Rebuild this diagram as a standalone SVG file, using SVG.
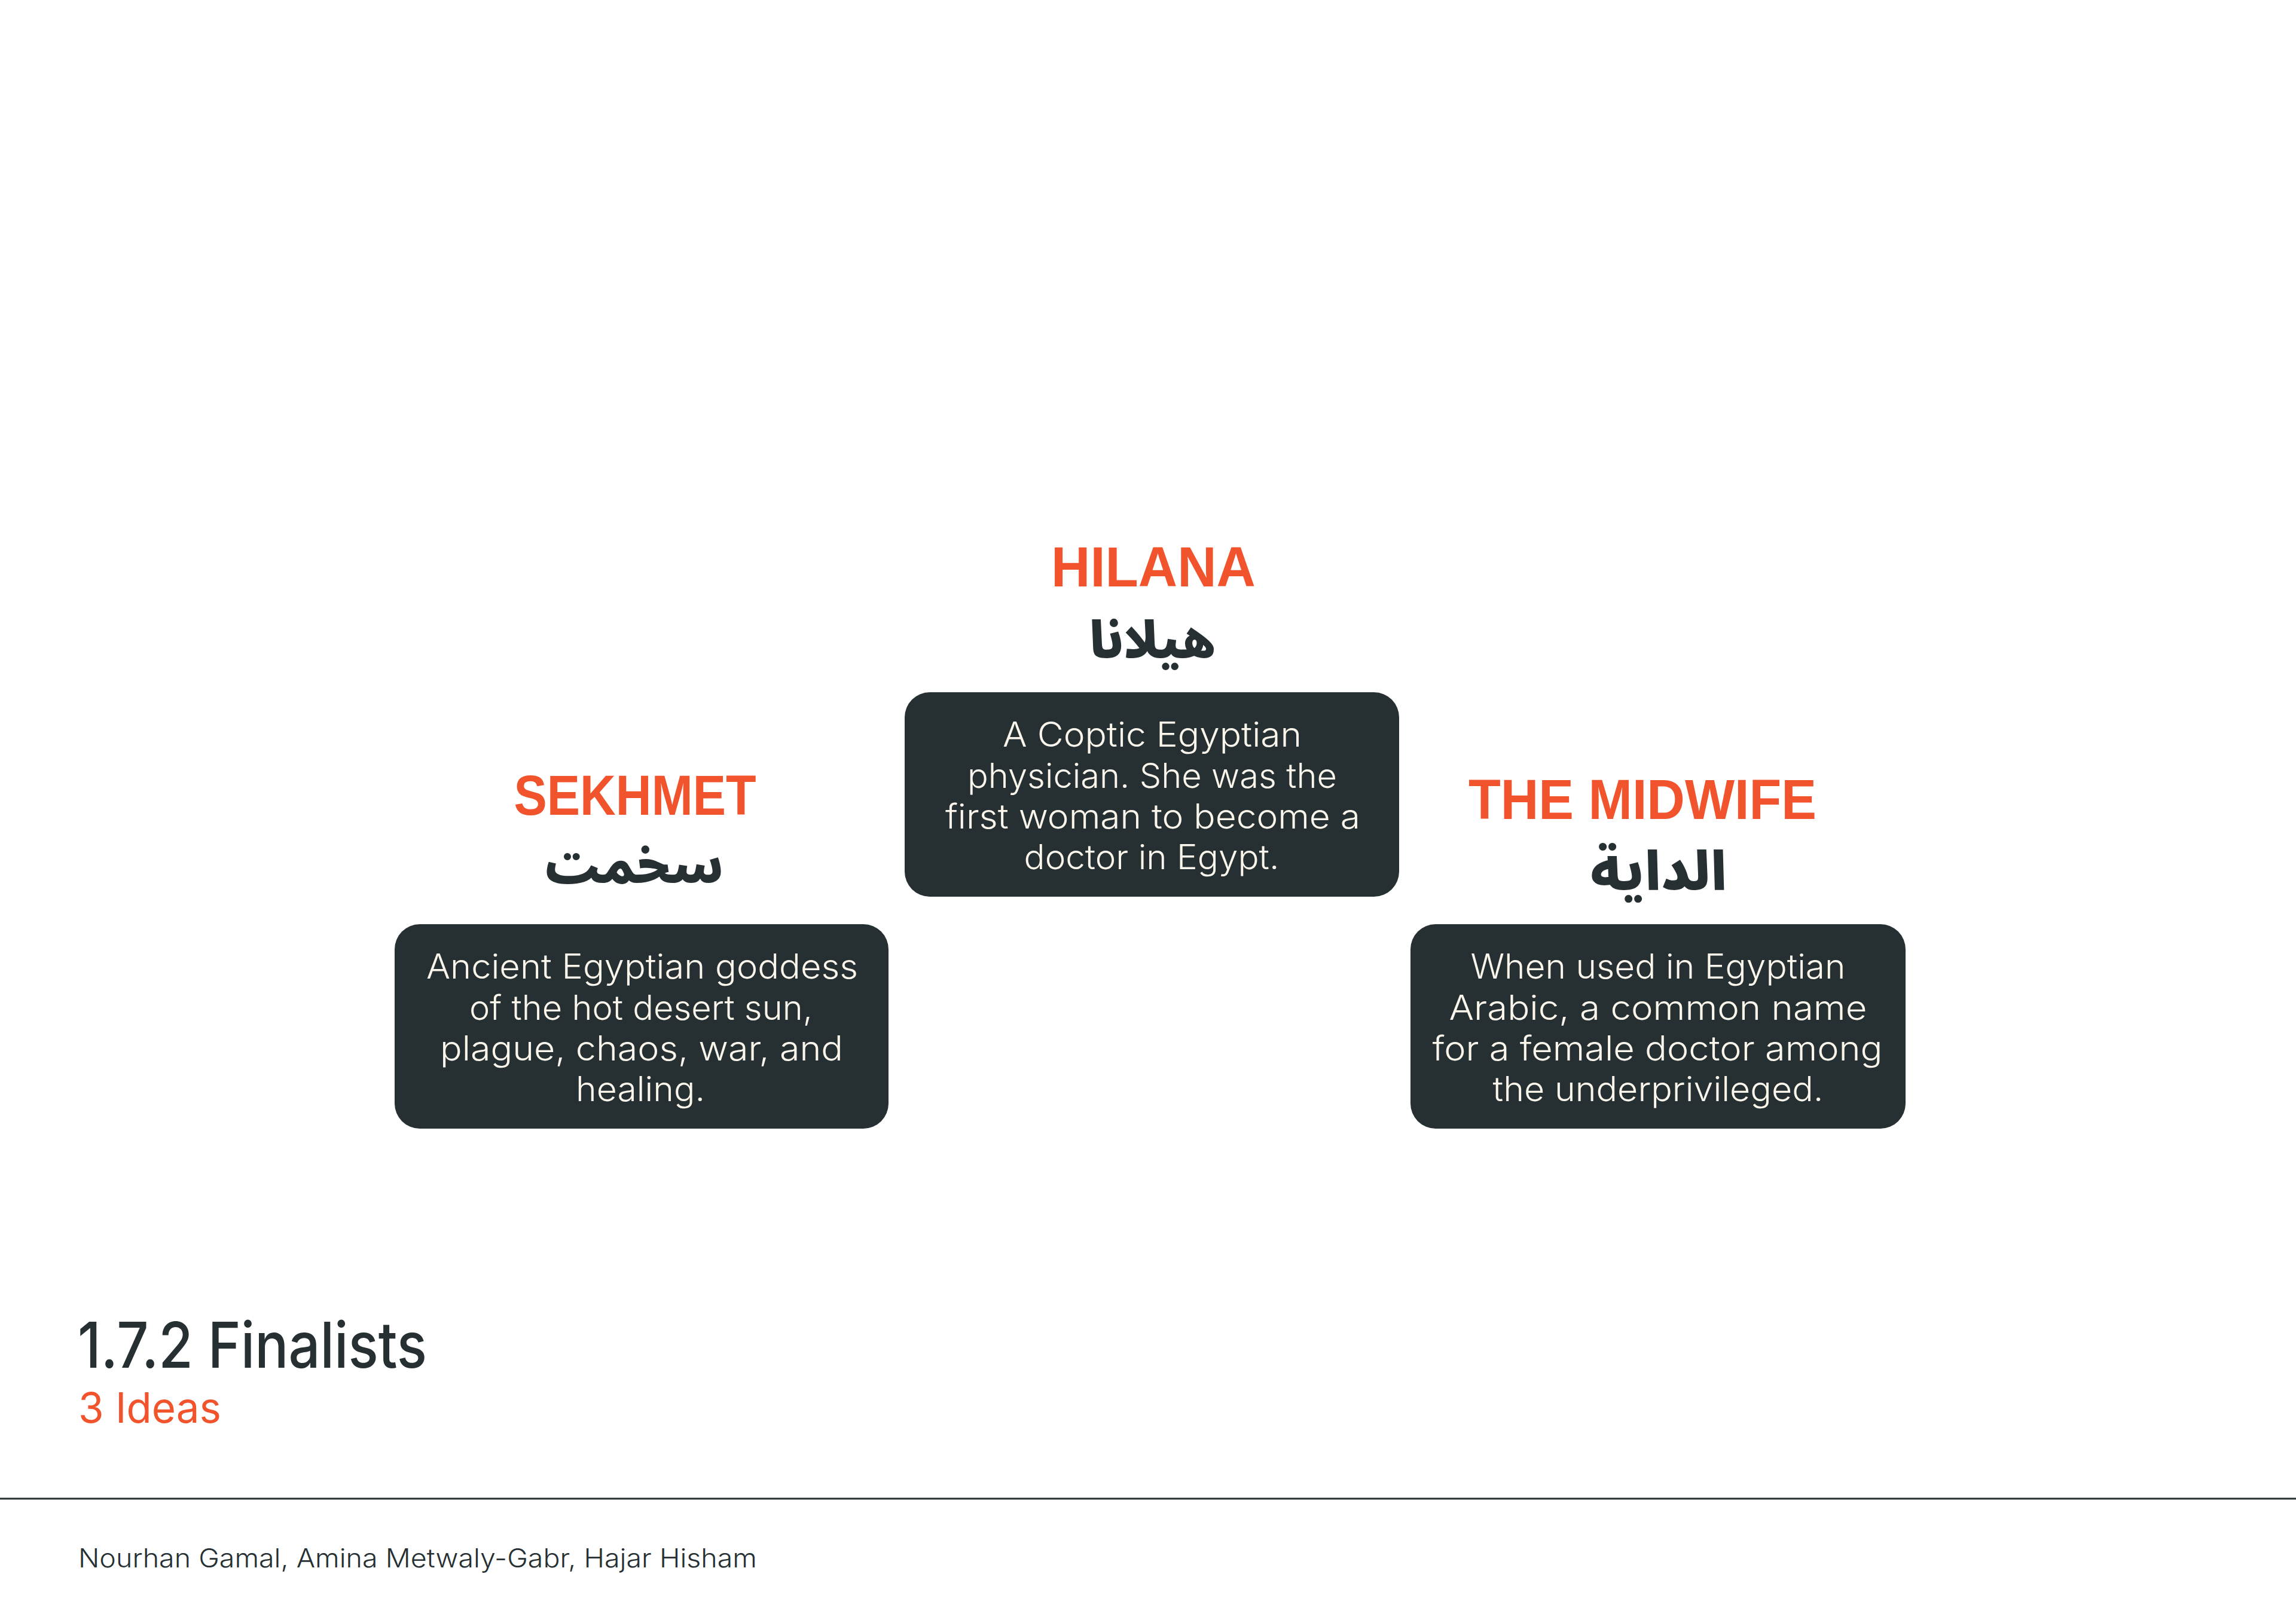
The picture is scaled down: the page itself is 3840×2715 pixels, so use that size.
<svg xmlns="http://www.w3.org/2000/svg" width="3840" height="2715" viewBox="0 0 3840 2715">
<style>
.bg{fill:#ffffff}
.title{font-family:"Liberation Sans",Arial,sans-serif;font-weight:700;font-size:95px;fill:#F1542D;text-anchor:middle}
.ar{font-family:"Noto Sans Arabic","DejaVu Sans",sans-serif;font-weight:900;font-size:88px;fill:#263033;text-anchor:middle}
.box{fill:#263033}
.body{font-family:Inter,"Liberation Sans",sans-serif;font-weight:300;font-size:57px;fill:#FBF6EC;text-anchor:middle}
.h1{font-family:Inter,"Liberation Sans",sans-serif;font-weight:500;font-size:106px;fill:#263033}
.h2{font-family:Inter,"Liberation Sans",sans-serif;font-weight:400;font-size:70px;fill:#F1542D}
.foot{font-family:Inter,"Liberation Sans",sans-serif;font-weight:300;font-size:43px;fill:#263033}
</style>
<rect class="bg" x="0" y="0" width="3840" height="2715"/>
<g id="connectors"></g>
<g id="node-hilana">
<text class="title" x="1929" y="981" textLength="342" lengthAdjust="spacingAndGlyphs">HILANA</text>
<text class="ar" x="1928" y="1101" direction="rtl" style="font-size:85px">هيلانا</text>
<rect class="box" x="1513" y="1158" width="827" height="342" rx="42" ry="42"/>
<text class="body" x="1927" y="1249" textLength="500" lengthAdjust="spacingAndGlyphs">A Coptic Egyptian</text>
<text class="body" x="1927" y="1318" textLength="618" lengthAdjust="spacingAndGlyphs">physician. She was the</text>
<text class="body" x="1928" y="1386" textLength="694" lengthAdjust="spacingAndGlyphs">first woman to become a</text>
<text class="body" x="1926" y="1454" textLength="427" lengthAdjust="spacingAndGlyphs">doctor in Egypt.</text>
</g>
<g id="node-sekhmet">
<text class="title" x="1062" y="1363" textLength="405" lengthAdjust="spacingAndGlyphs">SEKHMET</text>
<text class="ar" x="1060" y="1477" direction="rtl" style="font-size:82px">سخمت</text>
<rect class="box" x="660" y="1546" width="826" height="342" rx="42" ry="42"/>
<text class="body" x="1074" y="1637" textLength="722" lengthAdjust="spacingAndGlyphs">Ancient Egyptian goddess</text>
<text class="body" x="1072" y="1706" textLength="574" lengthAdjust="spacingAndGlyphs">of the hot desert sun,</text>
<text class="body" x="1073" y="1774" textLength="674" lengthAdjust="spacingAndGlyphs">plague, chaos, war, and</text>
<text class="body" x="1071" y="1842" textLength="216" lengthAdjust="spacingAndGlyphs">healing.</text>
</g>
<g id="node-midwife">
<text class="title" x="2747" y="1370" textLength="582" lengthAdjust="spacingAndGlyphs">THE MIDWIFE</text>
<text class="ar" x="2774" y="1489" direction="rtl" style="font-size:89px">الداية</text>
<rect class="box" x="2359" y="1546" width="828" height="342" rx="42" ry="42"/>
<text class="body" x="2773" y="1637" textLength="627" lengthAdjust="spacingAndGlyphs">When used in Egyptian</text>
<text class="body" x="2773" y="1706" textLength="699" lengthAdjust="spacingAndGlyphs">Arabic, a common name</text>
<text class="body" x="2772" y="1774" textLength="753" lengthAdjust="spacingAndGlyphs">for a female doctor among</text>
<text class="body" x="2773" y="1842" textLength="553" lengthAdjust="spacingAndGlyphs">the underprivileged.</text>
</g>
<g id="heading">
<text class="h1" x="130" y="2288" textLength="584" lengthAdjust="spacingAndGlyphs">1.7.2 Finalists</text>
<text class="h2" x="131" y="2380" textLength="239" lengthAdjust="spacingAndGlyphs">3 Ideas</text>
</g>
<line x1="0" y1="2507" x2="3840" y2="2507" stroke="#263033" stroke-width="3"/>
<g id="footer">
<text class="foot" x="131" y="2622" textLength="1135" lengthAdjust="spacingAndGlyphs">Nourhan Gamal, Amina Metwaly-Gabr, Hajar Hisham</text>
</g>
</svg>
